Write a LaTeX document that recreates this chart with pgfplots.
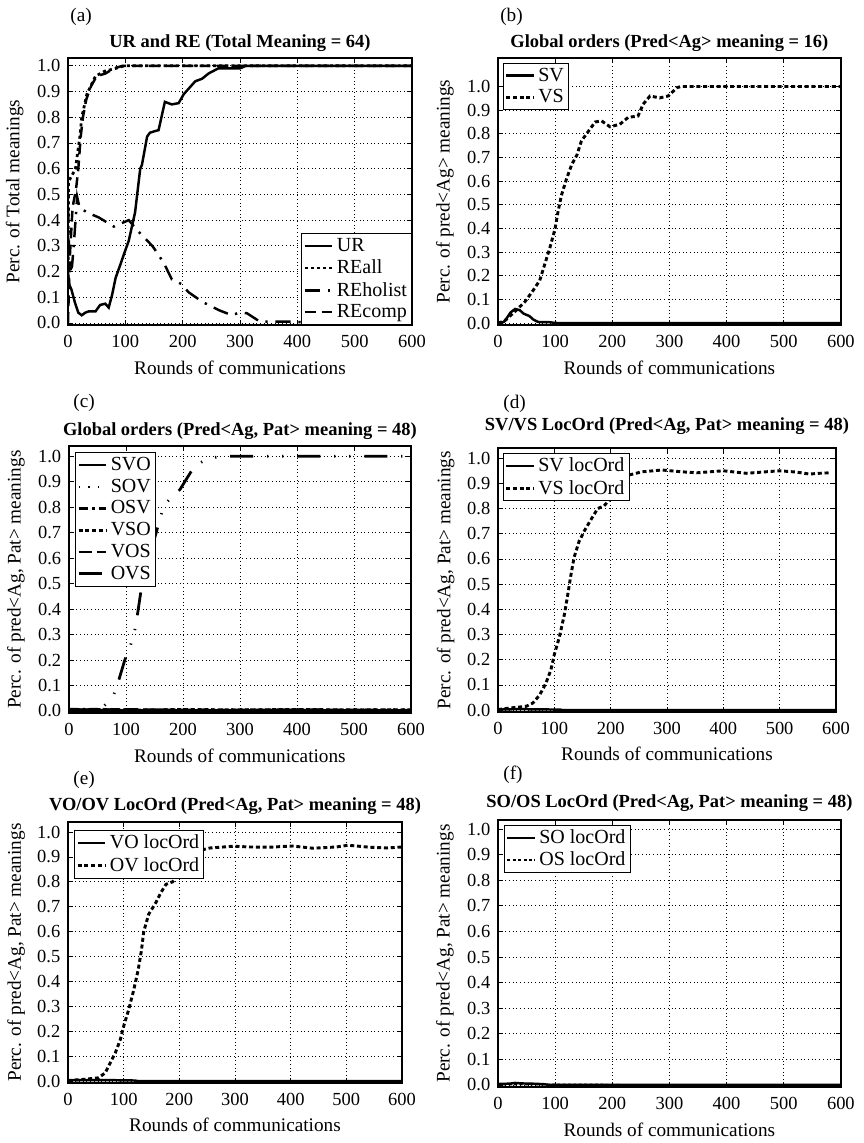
\documentclass[border=0pt]{standalone}
\usepackage{fontspec}
\setmainfont{Liberation Serif}
\usepackage{pgfplots}
\pgfplotsset{compat=1.18}

\pgfplotsset{
  panel/.style={
    scale only axis, xmin=0, xmax=600, ymin=-0.008,
    xtick={0,100,200,300,400,500,600},
    ytick={0,0.1,0.2,0.3,0.4,0.5,0.6,0.7,0.8,0.9,1.0},
    yticklabel style={/pgf/number format/fixed, /pgf/number format/fixed zerofill,
      /pgf/number format/precision=1, xshift=-1.5pt},
    /pgf/number format/assume math mode=true,
    grid=major, grid style={black, dotted, line width=0.5pt},
    axis line style={line width=1pt}, tick style={black, line width=0.5pt},
    major tick length=3pt, tick align=inside,
    ticklabel style={font=\fontsize{12}{12}\selectfont},
    xticklabel style={yshift=-3pt},
    label style={font=\fontsize{12.5}{14}\selectfont},
    title style={font=\fontsize{12}{14}\selectfont\bfseries, yshift=-5.5pt},
    xlabel={Rounds of communications},
    xlabel style={at={(rel axis cs:0.5,-0.185)}, anchor=base},
    ylabel style={at={(rel axis cs:-0.155,0.5)}, anchor=center},
    legend style={font=\fontsize{13}{13.5}\selectfont, draw=black, line width=0.6pt,
      fill=white, inner sep=1pt, cells={anchor=west}},
    legend image code/.code={\draw[##1] (0pt,0pt) -- (18pt,0pt);},
  },
  ln/.style={black, line width=1.6pt},
  dots/.style={black, line width=1.9pt, dash pattern=on 2.6pt off 1.8pt},
}

\begin{document}
\begin{tikzpicture}
\path (0,0) rectangle (561pt,743pt);
\tikzset{lab/.style={anchor=base west, font=\fontsize{12.5}{14}\selectfont}}
\node[lab] at (42.2pt,729.3pt) {(a)};
\node[lab] at (321.7pt,729.3pt) {(b)};
\node[lab] at (44.2pt,478.4pt) {(c)};
\node[lab] at (323.7pt,477.7pt) {(d)};
\node[lab] at (44.2pt,233.3pt) {(e)};
\node[lab] at (323.7pt,236.6pt) {(f)};

% (a)
\begin{axis}[panel, at={(44.2pt,531.7pt)}, anchor=south west,
  width=223.6pt, height=173.5pt, ymax=1.03,
  title={UR and RE (Total Meaning = 64)},
  ylabel={Perc. of Total meanings},
  legend style={at={(1,0)}, anchor=south east}]
\addplot[ln] coordinates {(0,0.20)(2,0.15)(6,0.13)(12,0.08)(18,0.04)(24,0.03)(30,0.04)(36,0.045)(48,0.045)(56,0.07)(65,0.075)(71,0.06)(77,0.11)(83,0.175)(91,0.225)(98,0.27)(106,0.32)(117,0.43)(126,0.60)(129,0.615)(138,0.725)(143,0.74)(150,0.745)(158,0.75)(169,0.86)(181,0.85)(193,0.855)(202,0.89)(222,0.94)(234,0.95)(245,0.97)(262,0.99)(280,0.99)(300,0.99)(310,1.0)(600,1.0)};
\addlegendentry{UR}
\addplot[black, line width=1.8pt, dash pattern=on 2pt off 2pt] coordinates {(0,0.15)(1,0.55)(6,0.57)(13,0.60)(21,0.73)(24,0.80)(33,0.89)(48,0.96)(65,0.98)(83,0.99)(98,1.0)(600,1.0)};
\addlegendentry{REall}
\addplot[black, line width=1.6pt, dash pattern=on 10pt off 5pt on 1.5pt off 5pt] coordinates {(0,0.45)(3,0.2)(7,0.22)(10,0.30)(16,0.49)(20,0.45)(33,0.43)(54,0.41)(80,0.375)(106,0.40)(123,0.355)(147,0.30)(158,0.265)(169,0.225)(181,0.17)(199,0.15)(210,0.12)(234,0.083)(245,0.07)(263,0.05)(286,0.03)(298,0.04)(312,0.038)(335,0.005)(360,0.005)(395,0.005)(423,0)(450,0.01)(475,0.01)(500,0)(540,0.01)(560,0.01)(570,0)(600,0)};
\addlegendentry{REholist}
\addplot[black, line width=1.6pt, dash pattern=on 7pt off 4pt] coordinates {(0,0)(3,0.25)(8,0.45)(14,0.52)(18,0.60)(22,0.72)(26,0.80)(32,0.87)(40,0.92)(50,0.96)(65,0.97)(80,0.99)(95,1.0)(600,1.0)};
\addlegendentry{REcomp}
\end{axis}

% (b)
\begin{axis}[panel, at={(323.7pt,531.7pt)}, anchor=south west,
  width=222.9pt, height=173.5pt, ymax=1.12,
  title={Global orders (Pred<Ag> meaning = 16)},
  ylabel={Perc. of pred<Ag> meanings},
  legend style={at={(0,1)}, anchor=north west, xshift=3pt, yshift=-3pt}]
\addplot[ln] coordinates {(0,0)(10,0.005)(15,0.02)(22,0.045)(30,0.06)(38,0.055)(45,0.04)(55,0.03)(62,0.015)(70,0.005)(90,0.004)(100,0.001)(110,0)(600,0)};
\addlegendentry{SV}
\addplot[dots] coordinates {(0,0)(12,0.01)(30,0.05)(47,0.09)(62,0.14)(73,0.18)(82,0.25)(91,0.32)(100,0.40)(105,0.47)(111,0.54)(120,0.61)(129,0.67)(138,0.71)(146,0.77)(158,0.81)(170,0.85)(181,0.855)(196,0.83)(213,0.84)(228,0.87)(245,0.875)(254,0.925)(266,0.96)(283,0.952)(298,0.96)(313,0.995)(320,1.0)(600,1.0)};
\addlegendentry{VS}
\end{axis}

% (c)
\begin{axis}[panel, at={(44.8pt,279.5pt)}, anchor=south west,
  width=222.3pt, height=173.5pt, ymax=1.04,
  title={Global orders (Pred<Ag, Pat> meaning = 48)},
  ylabel={Perc. of pred<Ag, Pat> meanings},
  legend style={at={(0,1)}, anchor=north west, xshift=4pt, yshift=-4pt}]
\addplot[ln] coordinates {(0,0.002)(100,0.002)(200,0.002)(300,0.002)(400,0.002)(500,0.002)(600,0.002)};
\addlegendentry{SVO}
\addplot[black, line width=1.4pt, dash pattern=on 1.2pt off 5pt] coordinates {(0,0.006)(150,0.005)(300,0.006)(450,0.005)(600,0.006)};
\addlegendentry{SOV}
\addplot[black, line width=1.4pt, dash pattern=on 6pt off 3pt on 1.5pt off 3pt] coordinates {(0,0.008)(50,0.008)(60,0.003)(600,0.003)};
\addlegendentry{OSV}
\addplot[dots] coordinates {(0,0.004)(60,0.006)(120,0.003)(200,0.006)(300,0.004)(400,0.006)(500,0.004)(600,0.005)};
\addlegendentry{VSO}
\addplot[black, line width=1.4pt, dash pattern=on 9pt off 3pt] coordinates {(0,0.005)(100,0.007)(250,0.004)(400,0.006)(600,0.004)};
\addlegendentry{VOS}
\addplot[black, line width=1.8pt, dash pattern=on 15pt off 9pt on 0.8pt off 9pt on 0.8pt off 9pt] coordinates {(0,0.005)(50,0.005)(55,0.01)(62,0.02)(78,0.06)(86,0.11)(98,0.20)(107,0.25)(115,0.31)(119,0.36)(125,0.45)(129,0.51)(160,0.755)(167,0.81)(186,0.85)(195,0.87)(206,0.91)(220,0.96)(242,0.99)(268,1.0)(600,1.0)};
\addlegendentry{OVS}
\end{axis}

% (d)
\begin{axis}[panel, at={(323.7pt,280.1pt)}, anchor=south west,
  width=219.7pt, height=171.6pt, ymax=1.04,
  title style={yshift=4.5pt},
  title={SV/VS LocOrd (Pred<Ag, Pat> meaning = 48)},
  ylabel={Perc. of pred<Ag, Pat> meanings},
  legend style={at={(0,1)}, anchor=north west, xshift=3pt, yshift=-3pt}]
\addplot[ln] coordinates {(0,0.002)(40,0.004)(60,0.003)(110,0.002)(115,0)(600,0)};
\addlegendentry{SV locOrd}
\addplot[dots] coordinates {(0,0.002)(20,0.008)(50,0.015)(62,0.028)(74,0.06)(85,0.106)(94,0.16)(100,0.22)(109,0.29)(118,0.38)(124,0.46)(129,0.53)(135,0.605)(144,0.67)(153,0.71)(165,0.756)(177,0.80)(188,0.81)(200,0.84)(218,0.91)(232,0.933)(256,0.946)(291,0.953)(326,0.946)(353,0.942)(400,0.95)(441,0.94)(470,0.945)(500,0.95)(529,0.945)(553,0.937)(570,0.94)(590,0.942)};
\addlegendentry{VS locOrd}
\end{axis}

% (e)
\begin{axis}[panel, at={(44.2pt,39pt)}, anchor=south west,
  width=217.1pt, height=169.6pt, ymax=1.04,
  title style={yshift=1pt},
  title={VO/OV LocOrd (Pred<Ag, Pat> meaning = 48)},
  ylabel={Perc. of pred<Ag, Pat> meanings},
  legend style={at={(0,1)}, anchor=north west, xshift=4pt, yshift=-5pt}]
\addplot[ln] coordinates {(0,0.003)(60,0.004)(120,0.002)(125,0)(600,0)};
\addlegendentry{VO locOrd}
\addplot[dots] coordinates {(0,0.002)(30,0.007)(55,0.013)(67,0.033)(76,0.073)(85,0.113)(94,0.166)(100,0.22)(109,0.286)(118,0.365)(126,0.445)(132,0.525)(136,0.60)(145,0.67)(158,0.717)(167,0.757)(176,0.79)(188,0.80)(200,0.837)(215,0.896)(230,0.923)(255,0.936)(297,0.943)(327,0.94)(361,0.939)(403,0.944)(440,0.935)(482,0.94)(503,0.947)(542,0.939)(573,0.936)(600,0.94)};
\addlegendentry{OV locOrd}
\end{axis}

% (f)
\begin{axis}[panel, at={(323.7pt,36.4pt)}, anchor=south west,
  width=222.9pt, height=173.5pt, ymax=1.035,
  title style={yshift=1.5pt},
  title={SO/OS LocOrd (Pred<Ag, Pat> meaning = 48)},
  ylabel={Perc. of pred<Ag, Pat> meanings},
  legend style={at={(0,1)}, anchor=north west, xshift=4pt, yshift=-3pt}]
\addplot[ln] coordinates {(0,0.004)(20,0.005)(30,0.008)(40,0.006)(60,0.005)(80,0.003)(90,0)(600,0)};
\addlegendentry{SO locOrd}
\addplot[black, line width=1.2pt, dash pattern=on 2pt off 1.5pt] coordinates {(0,0.002)(100,0.002)(200,0.001)(220,0)(600,0)};
\addlegendentry{OS locOrd}
\end{axis}
\end{tikzpicture}
\end{document}
